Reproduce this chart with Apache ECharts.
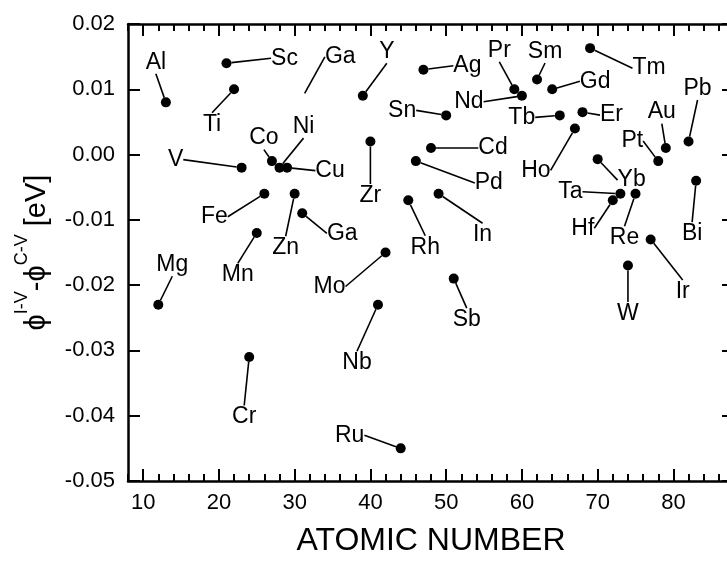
<!DOCTYPE html>
<html>
<head>
<meta charset="utf-8">
<script src="https://cdn.jsdelivr.net/npm/echarts@6/dist/echarts.min.js"></script>
<style>
  html, body { margin: 0; padding: 0; background: #fff; }
  #chart { width: 727px; height: 566px; }
</style>
</head>
<body>
<div id="chart"></div>
<script>
// element symbols (Ga appears twice in the figure)
var elements = ['Mg', 'Al', 'Sc', 'Ti', 'V', 'Cr', 'Mn', 'Fe', 'Co', 'Ni', 'Cu', 'Zn', 'Ga', 'Ga',
    'Y', 'Zr', 'Nb', 'Mo', 'Ru', 'Rh', 'Pd', 'Ag', 'Cd', 'In', 'Sn', 'Sb',
    'Pr', 'Nd', 'Sm', 'Gd', 'Tb', 'Ho', 'Er', 'Tm', 'Yb', 'Hf', 'Ta', 'W', 'Re', 'Ir', 'Pt', 'Au', 'Pb', 'Bi'];
var atomicNumber = [12, 13, 21, 22, 23, 24, 25, 26, 27, 28, 29, 30, 31, 31,
    39, 40, 41, 42, 44, 45, 46, 47, 48, 49, 50, 51,
    59, 60, 62, 64, 65, 67, 68, 69, 70, 72, 73, 74, 75, 77, 78, 79, 82, 83];
// phi(I-V) - phi(C-V) in eV
var deltaPhi = [-0.023, 0.008, 0.014, 0.010, -0.002, -0.031, -0.012, -0.006, -0.001, -0.002, -0.002, -0.006, -0.009, 0.0087,
    0.009, 0.002, -0.023, -0.015, -0.045, -0.007, -0.001, 0.013, 0.001, -0.006, 0.006, -0.019,
    0.010, 0.009, 0.0115, 0.010, 0.006, 0.004, 0.0065, 0.0163, -0.0007, -0.007, -0.006, -0.017, -0.006, -0.013, -0.001, 0.001, 0.002, -0.004];
var xLabelValues = [10, 20, 30, 40, 50, 60, 70, 80];

// where each name sits relative to its dot (px)
var labelShift = [
    [14, -40], [-10, -40], [58, -5], [-22, 35], [-66, -8], [-5, 60], [-19, 42], [-50, 23], [-8, -23], [24, -41], [43, 3], [-9, 54], [40, 20], [38, -41],
    [24, -44], [0, 54], [-21, 58], [-56, 34], [-51, -13], [17, 47], [73, 22], [44, -4], [62, 0], [44, 41], [-44, -5], [13, 41],
    [-15, -39], [-53, 6], [8, -28], [43, -8], [-38, 2], [-39, 42], [29, 3], [59, 20], [34, 21], [-30, 28], [-50, -2], [0, 48], [-11, 44], [32, 52], [-26, -20], [-4, -36], [9, -53], [-4, 53]
];
var noDot = [13]; // the upper Ga has only a leader line

var fontFamily = '"Liberation Sans", Arial, sans-serif';

var points = [];
for (var i = 0; i < elements.length; i++) {
    var p = { name: elements[i], value: [atomicNumber[i], deltaPhi[i]] };
    if (noDot.indexOf(i) >= 0) p.itemStyle = { color: 'transparent' };
    points.push(p);
}

var myChart = echarts.init(document.getElementById('chart'));

var tickLine = { color: '#000', width: 2 };
var axisLine = { show: true, onZero: false, lineStyle: { color: '#000', width: 2.5 } };

var option = {
    animation: false,
    grid: {
        left: 128,
        top: 24,
        width: 606,
        height: 457,
        outerBoundsMode: 'none'
    },
    xAxis: [{
        type: 'value',
        position: 'bottom',
        min: 8,
        max: 88,
        name: 'ATOMIC NUMBER',
        nameLocation: 'middle',
        nameGap: 44,
        nameTextStyle: { fontSize: 32, fontFamily: fontFamily, color: '#000' },
        axisLine: axisLine,
        axisTick: { show: true, inside: true, length: 12, customValues: xLabelValues, lineStyle: tickLine },
        axisLabel: { customValues: xLabelValues, margin: 11, fontSize: 22, fontFamily: fontFamily, color: '#000' },
        splitLine: { show: false }
    }, {
        type: 'value',
        position: 'bottom',
        min: 8,
        max: 88,
        interval: 2,
        axisLine: { show: false, onZero: false },
        axisTick: { show: true, inside: true, length: 7, lineStyle: tickLine },
        axisLabel: { show: false },
        splitLine: { show: false }
    }, {
        type: 'value',
        position: 'top',
        min: 8,
        max: 88,
        axisLine: axisLine,
        axisTick: { show: true, inside: true, length: 12, customValues: xLabelValues, lineStyle: tickLine },
        axisLabel: { show: false },
        splitLine: { show: false }
    }, {
        type: 'value',
        position: 'top',
        min: 8,
        max: 88,
        interval: 2,
        axisLine: { show: false, onZero: false },
        axisTick: { show: true, inside: true, length: 7, lineStyle: tickLine },
        axisLabel: { show: false },
        splitLine: { show: false }
    }],
    yAxis: [{
        type: 'value',
        position: 'left',
        min: -0.05,
        max: 0.02,
        interval: 0.01,
        name: '{a|ϕ}{s|I-V}{a|-ϕ}{s|C-V}{a| [eV]}',
        nameLocation: 'middle',
        nameRotate: 90,
        nameGap: 77,
        nameMoveOverlap: false,
        nameTextStyle: {
            fontFamily: fontFamily,
            color: '#000',
            rich: {
                a: { fontSize: 29, fontFamily: fontFamily, color: '#000', lineHeight: 38, verticalAlign: 'bottom' },
                s: { fontSize: 18, fontFamily: fontFamily, color: '#000', lineHeight: 38, verticalAlign: 'top' }
            }
        },
        axisLine: axisLine,
        axisTick: { show: true, inside: true, length: 12, lineStyle: tickLine },
        axisLabel: {
            margin: 13,
            fontSize: 22,
            fontFamily: fontFamily,
            color: '#000',
            formatter: function (v) {
                if (Math.abs(v) < 1e-9) return '0.00';
                return v.toFixed(2);
            }
        },
        splitLine: { show: false }
    }, {
        type: 'value',
        position: 'right',
        min: -0.05,
        max: 0.02,
        interval: 0.01,
        axisLine: axisLine,
        axisTick: { show: true, inside: true, length: 12, lineStyle: tickLine },
        axisLabel: { show: false },
        splitLine: { show: false }
    }],
    series: [{
        type: 'scatter',
        xAxisIndex: 0,
        yAxisIndex: 0,
        data: points,
        symbol: 'circle',
        symbolSize: 10,
        itemStyle: { color: '#000', opacity: 1 },
        label: {
            show: true,
            position: 'inside',
            formatter: '{b}',
            fontSize: 23,
            fontFamily: fontFamily,
            color: '#000',
            opacity: 1,
            padding: 2
        },
        labelLine: {
            show: true,
            lineStyle: { color: '#000', width: 1.6, opacity: 1 }
        },
        labelLayout: function (params) {
            var s = labelShift[params.dataIndex];
            return { dx: s[0], dy: s[1] };
        },
        emphasis: { disabled: true }
    }]
};

myChart.setOption(option);
</script>
</body>
</html>
